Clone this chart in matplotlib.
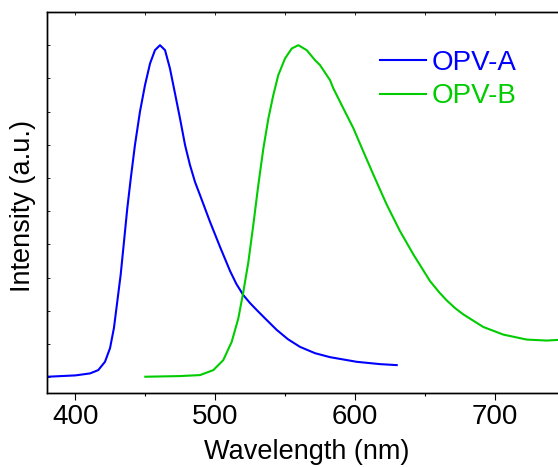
import numpy as np
import matplotlib
matplotlib.use("Agg")
import matplotlib.pyplot as plt

plt.rcParams['font.family'] = ['Liberation Sans', 'DejaVu Sans']

# Normalised photoluminescence spectra
wl_a = [380.0, 400.0, 410.5, 416.4, 421.2, 424.8, 427.6, 430.0, 432.4, 434.8,
        437.1, 439.6, 442.6, 446.2, 449.8, 453.4, 456.9, 460.5, 464.1, 467.6,
        471.2, 474.8, 478.4, 481.9, 485.5, 489.1, 496.2, 503.4, 510.5, 515.0,
        520.0, 524.8, 529.6, 535.5, 543.9, 551.9, 560.5, 571.2, 581.9, 601.0,
        617.6, 629.6]
int_a = [0.001, 0.005, 0.011, 0.021, 0.046, 0.087, 0.148, 0.228, 0.308, 0.409,
         0.507, 0.598, 0.699, 0.800, 0.880, 0.945, 0.985, 1.000, 0.985, 0.930,
         0.855, 0.779, 0.699, 0.639, 0.588, 0.548, 0.468, 0.392, 0.320, 0.281,
         0.247, 0.223, 0.202, 0.177, 0.142, 0.114, 0.091, 0.072, 0.060, 0.046,
         0.039, 0.036]

wl_b = [450.0, 474.8, 489.1, 498.6, 505.7, 511.7, 516.4, 520.0, 523.6, 527.1,
        530.7, 534.3, 537.9, 541.4, 545.0, 549.8, 554.6, 559.3, 565.3, 571.2,
        574.8, 581.9, 584.3, 591.4, 598.6, 605.7, 612.9, 622.4, 631.9, 641.4,
        653.4, 660.0, 665.3, 671.2, 677.1, 691.4, 705.7, 722.4, 736.7, 744.8,
        750.0]
int_b = [0.001, 0.003, 0.006, 0.021, 0.051, 0.106, 0.176, 0.256, 0.346, 0.457,
         0.578, 0.688, 0.779, 0.849, 0.910, 0.960, 0.990, 1.000, 0.985, 0.955,
         0.940, 0.895, 0.870, 0.810, 0.750, 0.680, 0.610, 0.520, 0.440, 0.370,
         0.289, 0.255, 0.231, 0.208, 0.189, 0.151, 0.128, 0.113, 0.110, 0.112,
         0.114]

labels = ["OPV-A", "OPV-B"]
colors = ["#0000ff", "#00cc00"]

x_major = [400, 500, 600, 700]
x_minor = [450, 550, 650]
top_ticks = [400, 450, 500, 550, 600, 650, 700]
y_ticks = np.round(np.arange(0, 1.11, 0.1), 2)

W, H = 558, 467
fig = plt.figure(figsize=(W / 100, H / 100), dpi=100)
ax = fig.add_axes([47.3 / W, (H - 393) / H, 518 / W, (393 - 12) / H])

ax.plot(wl_a, int_a, color=colors[0], lw=1.5, label=labels[0],
        solid_joinstyle='round')
ax.plot(wl_b, int_b, color=colors[1], lw=1.5, label=labels[1],
        solid_joinstyle='round')

ax.set_xlim(380, 750)
ax.set_ylim(-0.048, 1.1)

ax.set_xticks(x_major)
ax.set_xticks(x_minor, minor=True)
ax.tick_params(axis='x', which='major', direction='out', length=5, width=0.8,
               labelsize=20, pad=3, top=False)
ax.tick_params(axis='x', which='minor', direction='out', length=2.5, width=0.8,
               top=False)
ax.set_yticks(y_ticks)
ax.tick_params(axis='y', which='major', direction='in', length=2, width=0.6,
               labelleft=False, right=False)

ax2 = ax.twiny()
ax2.set_xlim(ax.get_xlim())
ax2.set_xticks(top_ticks)
ax2.tick_params(axis='x', direction='in', length=2, width=0.6, labeltop=False)
for a in (ax, ax2):
    a.spines['right'].set_visible(False)
    for s in ('left', 'bottom', 'top'):
        a.spines[s].set_linewidth(1.0)

ax.set_xlabel("Wavelength (nm)", fontsize=19.5)
ax.xaxis.set_label_coords(0.5, -0.12)
ax.set_ylabel("Intensity (a.u.)", fontsize=19.5)
ax.yaxis.set_label_coords(-0.022, 0.49)

leg = ax.legend(loc='upper left', bbox_to_anchor=(380 / W, 1 - 50 / H),
                bbox_transform=fig.transFigure, frameon=False, fontsize=20,
                handlelength=1.65, handletextpad=0.2, labelspacing=0.26,
                labelcolor='linecolor', borderaxespad=0, borderpad=0)

fig.savefig("out.png", dpi=100)
